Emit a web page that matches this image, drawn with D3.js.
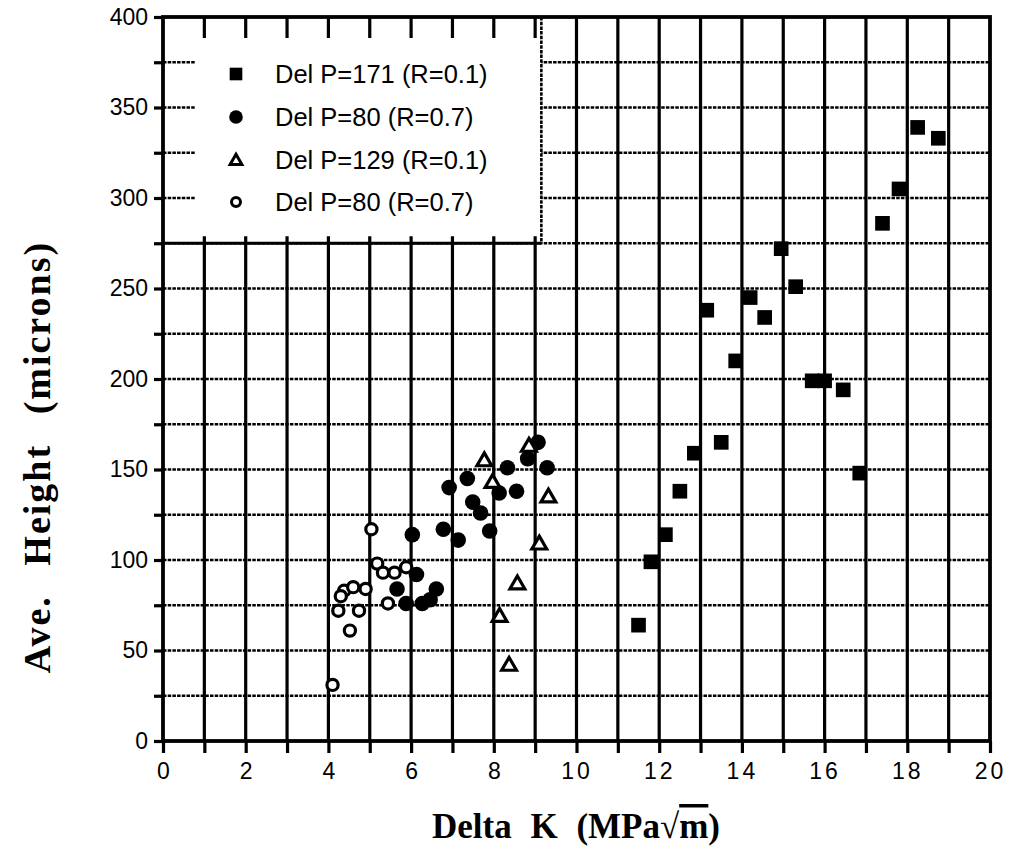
<!DOCTYPE html>
<html><head><meta charset="utf-8">
<script src="https://cdn.jsdelivr.net/npm/d3@7"></script>
<style>body{margin:0;background:#fff}</style></head>
<body>
<svg id="c" width="1011" height="852"></svg>
<script>
// Del P=171 (R=0.1) filled squares
const p171K = [11.5, 11.8, 12.15, 12.5, 12.85, 13.15, 13.5, 13.85, 14.2, 14.55, 14.95, 15.3, 15.7, 16.0, 16.45, 16.85, 17.4, 17.8, 18.25, 18.75];
const p171H = [64, 99, 114, 138, 159, 238, 165, 210, 245, 234, 272, 251, 199, 199, 194, 148, 286, 305, 339, 333];
// Del P=80 (R=0.7) filled circles
const p80aK = [9.07, 8.82, 9.29, 8.33, 7.36, 6.92, 8.13, 8.55, 7.49, 7.68, 7.9, 6.78, 7.14, 6.03, 6.13, 5.66, 6.61, 5.88, 6.27, 6.46];
const p80aH = [165, 156, 151, 151, 145, 140, 137, 138, 132, 126, 116, 117, 111, 114, 92, 84, 84, 76, 76, 78];
// Del P=129 (R=0.1) open triangles
const p129K = [7.77, 7.97, 8.85, 9.32, 9.1, 8.57, 8.14, 8.37];
const p129H = [155, 143, 163, 135, 109, 87, 69, 42];
// Del P=80 (R=0.7) open circles
const p80bK = [5.04, 4.1, 4.52, 4.24, 4.74, 5.44, 4.38, 4.3, 4.6, 4.9, 5.18, 5.32, 5.6, 5.88];
const p80bH = [117, 31, 61, 72, 72, 76, 83, 80, 85, 84, 98, 93, 93, 96];

const legendLabels = ["Del P=171 (R=0.1)", "Del P=80 (R=0.7)", "Del P=129 (R=0.1)", "Del P=80 (R=0.7)"];
const xTickLabels = [0, 2, 4, 6, 8, 10, 12, 14, 16, 18, 20];
const yTickLabels = [0, 50, 100, 150, 200, 250, 300, 350, 400];

const svg = d3.select("#c");
const x = d3.scaleLinear().domain([0, 20]).range([163, 990]);
const y = d3.scaleLinear().domain([0, 400]).range([741, 17]);
const SANS = "Liberation Sans, Arial, Helvetica, sans-serif";
const SERIF = "Liberation Serif, Times New Roman, serif";

const g = svg.append("g");
// vertical grid
g.selectAll(".vg").data(d3.range(1, 20)).enter().append("line")
  .attr("x1", d => x(d)).attr("x2", d => x(d)).attr("y1", y(0)).attr("y2", y(400))
  .attr("stroke", "#000").attr("stroke-width", 3.2);
// horizontal grid (dotted)
g.selectAll(".hg").data(d3.range(25, 400, 25)).enter().append("line")
  .attr("x1", x(0)).attr("x2", x(20)).attr("y1", d => y(d)).attr("y2", d => y(d))
  .attr("stroke", "#000").attr("stroke-width", 2.6).attr("stroke-dasharray", "3.5,1.2");

// legend box (covers grid)
const lx1 = x(9.15), ly1 = y(275);
g.append("rect").attr("x", x(0)).attr("y", y(400)).attr("width", lx1 - x(0)).attr("height", ly1 - y(400)).attr("fill", "#fff");
g.append("line").attr("x1", x(0)).attr("x2", lx1).attr("y1", ly1).attr("y2", ly1).attr("stroke", "#000").attr("stroke-width", 3);
g.append("line").attr("x1", lx1).attr("x2", lx1).attr("y1", y(400)).attr("y2", ly1).attr("stroke", "#000").attr("stroke-width", 2.6).attr("stroke-dasharray", "3.5,1.2");
// stubs inside legend
g.selectAll(".ts").data(d3.range(1, 10)).enter().append("line")
  .attr("x1", d => x(d)).attr("x2", d => x(d)).attr("y1", y(400)).attr("y2", y(400) + 21)
  .attr("stroke", "#000").attr("stroke-width", 3.2);
g.selectAll(".bs").data(d3.range(1, 10)).enter().append("line")
  .attr("x1", d => x(d)).attr("x2", d => x(d)).attr("y1", ly1).attr("y2", ly1 - 7)
  .attr("stroke", "#000").attr("stroke-width", 3.2);
g.selectAll(".ls").data(d3.range(300, 400, 25)).enter().append("line")
  .attr("x1", x(0)).attr("x2", x(0) + 32).attr("y1", d => y(d)).attr("y2", d => y(d))
  .attr("stroke", "#000").attr("stroke-width", 2.6).attr("stroke-dasharray", "3.5,1.2");

// frame
g.append("rect").attr("x", x(0)).attr("y", y(400)).attr("width", x(20) - x(0)).attr("height", y(0) - y(400))
  .attr("fill", "none").attr("stroke", "#000").attr("stroke-width", 3.8);

// axes
const xAxis = d3.axisBottom(x).tickValues(d3.range(0, 21)).tickSize(12).tickSizeOuter(0)
  .tickFormat(d => xTickLabels.includes(d) ? String(d) : "");
const xa = svg.append("g").attr("transform", `translate(0,${y(0)})`).call(xAxis);
xa.select(".domain").remove();
xa.selectAll(".tick line").attr("stroke", "#000").attr("stroke-width", 3.2);
xa.selectAll(".tick text").attr("font-family", SANS).attr("font-size", 23)
  .attr("fill", "#000").attr("y", 16).attr("dy", "0.95em").attr("letter-spacing", d => d >= 10 ? "3px" : "0px");

const yAxis = d3.axisLeft(y).tickValues(d3.range(0, 401, 25)).tickSize(9).tickSizeOuter(0)
  .tickFormat(d => yTickLabels.includes(d) ? String(d) : "");
const ya = svg.append("g").attr("transform", `translate(${x(0)},0)`).call(yAxis);
ya.select(".domain").remove();
ya.selectAll(".tick line").attr("stroke", "#000").attr("stroke-width", 3.2);
ya.selectAll(".tick text").attr("font-family", SANS).attr("font-size", 23)
  .attr("fill", "#000").attr("x", -15);

// markers
const sq = d3.symbol().type(d3.symbolSquare).size(215);
const tri = d3.symbol().type(d3.symbolTriangle).size(95);
const marks = svg.append("g");
marks.selectAll(".s1").data(p171K.map((k, i) => [k, p171H[i]])).enter().append("path")
  .attr("d", sq).attr("transform", d => `translate(${x(d[0])},${y(d[1])})`).attr("fill", "#000");
marks.selectAll(".s4").data(p80bK.map((k, i) => [k, p80bH[i]])).enter().append("circle")
  .attr("cx", d => x(d[0])).attr("cy", d => y(d[1])).attr("r", 5.6)
  .attr("fill", "#fff").attr("stroke", "#000").attr("stroke-width", 3.2);
marks.selectAll(".s2").data(p80aK.map((k, i) => [k, p80aH[i]])).enter().append("circle")
  .attr("cx", d => x(d[0])).attr("cy", d => y(d[1])).attr("r", 7.8).attr("fill", "#000");
marks.selectAll(".s3").data(p129K.map((k, i) => [k, p129H[i]])).enter().append("path")
  .attr("d", tri).attr("transform", d => `translate(${x(d[0])},${y(d[1]) + 1})`)
  .attr("fill", "#fff").attr("stroke", "#000").attr("stroke-width", 3.2);

// legend
const leg = svg.append("g");
const rows = [74, 117, 160, 202];
const lmx = 236, ltx = 275;
leg.append("path").attr("d", d3.symbol().type(d3.symbolSquare).size(160)).attr("transform", `translate(${lmx},${rows[0]})`).attr("fill", "#000");
leg.append("circle").attr("cx", lmx).attr("cy", rows[1]).attr("r", 6.8).attr("fill", "#000");
leg.append("path").attr("d", d3.symbol().type(d3.symbolTriangle).size(60)).attr("transform", `translate(${lmx},${rows[2] + 1})`).attr("fill", "#fff").attr("stroke", "#000").attr("stroke-width", 3);
leg.append("circle").attr("cx", lmx).attr("cy", rows[3]).attr("r", 4.5).attr("fill", "#fff").attr("stroke", "#000").attr("stroke-width", 3);
leg.selectAll(".lt").data(legendLabels).enter().append("text")
  .attr("x", ltx).attr("y", (d, i) => rows[i]).attr("dy", "0.36em")
  .attr("font-family", SANS).attr("font-size", 25.5).text(d => d);

// axis titles
const xt = svg.append("text").attr("x", 576).attr("y", 838).attr("text-anchor", "middle")
  .attr("font-family", SERIF).attr("font-weight", "bold").attr("font-size", 35)
  .attr("word-spacing", "10px");
xt.append("tspan").text("Delta  K  (MPa");
xt.append("tspan").text("\u221A");
xt.append("tspan").attr("text-decoration", "overline").text("m");
xt.append("tspan").text(")");

svg.append("text").attr("transform", "translate(50,457) rotate(-90)").attr("text-anchor", "middle")
  .attr("font-family", SERIF).attr("font-weight", "bold").attr("font-size", 38)
  .attr("word-spacing", "18px").attr("letter-spacing", "2px")
  .text("Ave.  Height  (microns)");
</script>
</body></html>
